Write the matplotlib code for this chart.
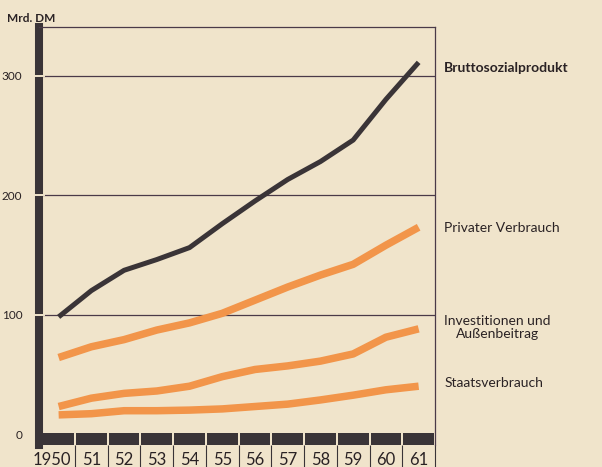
import numpy as np
import matplotlib.pyplot as plt
from matplotlib.transforms import blended_transform_factory, ScaledTranslation

# values (Mrd. DM)
years = ["1950", "51", "52", "53", "54", "55", "56", "57", "58", "59", "60", "61"]
brutto = [98, 120, 137, 146, 156, 176, 195, 213, 228, 246, 280, 311]
privat = [64, 73, 79, 87, 93, 101, 112, 123, 133, 142, 158, 173]
invest = [23, 30, 34, 36, 40, 48, 54, 57, 61, 67, 81, 88]
staat = [16, 17, 19.5, 19.5, 20, 21, 23, 25, 28.5, 32.5, 37, 40]
grid_vals = [100, 200, 300]

bg = "#f0e4cb"
dark = "#3a3437"
orange = "#f2954a"
ink = "#2a2224"
gridc = "#4a3a48"

plt.rcParams['font.family'] = ['Lato', 'DejaVu Sans']

fig = plt.figure(figsize=(6.02, 4.67), dpi=100, facecolor=bg)
ax = fig.add_axes([39 / 602, 22 / 467, 396 / 602, 418 / 467], facecolor=bg)

x = np.arange(len(years))
ax.set_xlim(-0.6, 11.5)
ax.set_ylim(-9.2, 340.6)

for g in grid_vals:
    ax.axhline(g, color=gridc, lw=0.9, zorder=1)

# segmented base bar
ax.bar(x, 10.2, bottom=-9.2, width=0.94, color=dark, zorder=2)

ax.plot(x, brutto, color=dark, lw=3.6, solid_joinstyle='round', solid_capstyle='butt', zorder=4)
for s in (privat, invest, staat):
    ax.plot(x, s, color=orange, lw=5.4, solid_joinstyle='round', solid_capstyle='butt', zorder=3)

# spines
for side in ('top', 'right'):
    ax.spines[side].set_color(gridc)
    ax.spines[side].set_linewidth(0.9)
ax.spines['bottom'].set_visible(False)
ax.spines['left'].set_color(dark)
ax.spines['left'].set_linewidth(5.8)

# light notches in the left bar at the grid lines
tr = blended_transform_factory(ax.transAxes, ax.transData)
for g in grid_vals:
    ax.plot([-0.015, 0.012], [g, g], color=bg, lw=1.4, transform=tr,
            clip_on=False, zorder=5)

ax.set_yticks([0] + grid_vals)
ax.set_yticklabels(["0"] + [str(g) for g in grid_vals])
ax.tick_params(axis='y', length=0, pad=12, labelsize=8.5, labelcolor=ink)

ax.set_xticks(x)
ax.set_xticklabels(years)
ax.tick_params(axis='x', length=0, pad=5, labelsize=12, labelcolor=ink)
first = ax.get_xticklabels()[0]
first.set_transform(first.get_transform() + ScaledTranslation(-5 / 72, 0, fig.dpi_scale_trans))
ax.set_xticks(x + 0.5, minor=True)
ax.tick_params(axis='x', which='minor', length=16, width=0.8, color=dark, direction='out')

fig.text(7 / 602, 1 - 18 / 467, "Mrd. DM", fontsize=8.5, color=ink, va='center', ha='left',
         fontweight='bold')

lx = 11.78
ax.text(lx, brutto[-1] - 5, "Bruttosozialprodukt", fontsize=10, fontweight='bold',
        color=ink, va='center', ha='left', clip_on=False)
ax.text(lx, privat[-1] - 1, "Privater Verbrauch", fontsize=10, color=ink,
        va='center', ha='left', clip_on=False)
ax.text(lx, invest[-1] + 1, "Investitionen und\nAußenbeitrag", fontsize=10, color=ink,
        va='center', ha='left', multialignment='center', linespacing=1.1, clip_on=False)
ax.text(lx, staat[-1] + 3, "Staatsverbrauch", fontsize=10, color=ink,
        va='center', ha='left', clip_on=False)

fig.savefig("out.png", dpi=100, facecolor=bg)
